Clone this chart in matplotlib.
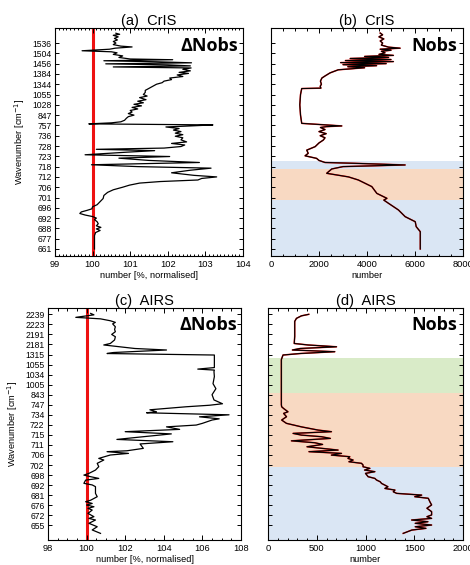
import matplotlib
matplotlib.use("Agg")
import matplotlib.pyplot as plt
from matplotlib.ticker import MultipleLocator, FixedLocator

plt.rcParams['font.family'] = ['Liberation Sans', 'DejaVu Sans']

# ---------------- data ----------------
cris_ticklabels = ['661', '677', '688', '692', '696', '701', '706', '712', '718', '723',
                   '728', '736', '757', '847', '1028', '1055', '1344', '1384', '1456', '1504', '1536']
airs_ticklabels = ['655', '672', '676', '681', '692', '698', '702', '706', '711', '715', '722',
                   '734', '747', '843', '1005', '1034', '1055', '1315', '2181', '2191', '2223', '2239']

# (a) CrIS delta Nobs [% normalised] vs channel position
cris_d_pos = [20.95, 20.85, 20.75, 20.6, 20.45, 20.3, 20.15, 20.0, 19.85, 19.7, 19.62, 19.5, 19.4,
              19.25, 19.15, 19.05, 18.9, 18.75, 18.6, 18.45, 18.38, 18.28, 18.18, 18.08, 17.98,
              17.88, 17.78, 17.68, 17.58, 17.45, 17.3, 17.15, 17.05, 16.9, 16.75, 16.6, 16.45,
              16.3, 16.15, 16.0, 15.8, 15.6, 15.4, 15.2, 15.0, 14.85, 14.7, 14.5, 14.35, 14.2,
              14.05, 13.9, 13.75, 13.6, 13.45, 13.3, 13.15, 13.0, 12.85, 12.7, 12.5, 12.35, 12.25,
              12.15, 12.05, 11.95, 11.85, 11.7, 11.55, 11.4, 11.25, 11.1, 10.95, 10.8, 10.6, 10.4,
              10.25, 10.1, 9.95, 9.8, 9.68, 9.55, 9.4, 9.15, 8.98, 8.82, 8.6, 8.4, 8.18, 8.0,
              7.85, 7.65, 7.4, 7.15, 7.0, 6.85, 6.7, 6.55, 6.4, 6.2, 6.0, 5.75, 5.5, 5.2, 4.9,
              4.6, 4.3, 4.1, 3.9, 3.75, 3.6, 3.45, 3.3, 3.15, 3.0, 2.85, 2.65, 2.45, 2.25, 2.1,
              1.95, 1.8, 1.6, 1.3, 0.8, 0.0]
cris_d_val = [100.62, 100.72, 100.55, 100.68, 100.58, 100.66, 100.55, 100.62, 100.55, 100.75,
              101.05, 100.6, 100.45, 99.72, 100.5, 100.65, 100.55, 100.8, 100.7, 101.0, 102.13,
              100.3, 101.7, 102.63, 100.35, 102.0, 102.6, 100.55, 102.62, 102.4, 102.6, 102.3,
              102.55, 102.25, 102.4, 102.05, 102.1, 101.9, 101.85, 101.7, 101.6, 101.5, 101.4,
              101.4, 101.35, 101.45, 101.25, 101.42, 101.2, 101.35, 101.1, 101.3, 101.05, 101.2,
              101.0, 101.05, 100.95, 101.1, 100.95, 100.9, 100.85, 100.75, 100.5, 99.9, 103.2,
              102.6, 101.95, 102.3, 102.15, 102.35, 102.2, 102.4, 102.2, 102.4, 102.35, 102.5,
              102.1, 102.45, 102.35, 101.9, 100.1, 101.65, 100.9, 99.8, 102.05, 100.7, 101.5,
              102.84, 99.97, 101.2, 103.15, 102.6, 102.1, 102.7, 103.3, 102.9, 102.8, 101.8,
              101.25, 100.98, 100.8, 100.55, 100.4, 100.3, 100.28, 100.2, 100.12, 100.0, 99.98,
              99.85, 99.7, 99.66, 99.8, 100.0, 100.1, 100.05, 100.12, 100.15, 100.1, 100.22,
              100.1, 100.2, 100.08, 100.05, 100.05, 100.05]

# (b) CrIS Nobs
cris_n_pos = [20.97, 20.8, 20.6, 20.4, 20.2, 20.0, 19.8, 19.6, 19.5, 19.4, 19.3, 19.2, 19.05,
              18.9, 18.8, 18.7, 18.6, 18.5, 18.4, 18.3, 18.2, 18.1, 18.0, 17.9, 17.8, 17.7, 17.6,
              17.4, 17.1, 16.8, 16.6, 16.3, 16.0, 15.8, 15.62, 15.58, 15.0, 14.0, 13.0, 12.2,
              11.95, 11.88, 11.8, 11.6, 11.4, 11.2, 11.0, 10.8, 10.58, 10.3, 9.94, 9.6, 9.29,
              9.05, 8.8, 8.6, 8.4, 8.32, 8.16, 8.0, 7.77, 7.35, 7.0, 6.7, 6.06, 5.4, 4.92, 4.75,
              4.43, 3.79, 3.14, 2.65, 2.17, 1.68, 1.2, 0.0]
cris_n_val = [4550, 4650, 4500, 4700, 4550, 4650, 4600, 4900, 5380, 4550, 5000, 4600, 4750,
              4500, 5100, 3900, 4900, 3300, 5000, 3100, 5100, 2900, 4800, 3000, 4400, 3200, 3900,
              2800, 2460, 2250, 2120, 2060, 2100, 2050, 2080, 1280, 1230, 1200, 1230, 1280,
              2950, 2300, 2060, 2250, 2000, 2300, 2050, 2250, 2180, 2000, 1840, 1490, 1550,
              1420, 1900, 2000, 2250, 3500, 5590, 3000, 2530, 2320, 3230, 3640, 4200, 4410, 4830,
              4700, 4900, 5310, 5590, 6010, 6050, 6220, 6220, 6220]

# (c) AIRS delta Nobs
airs_d_pos = [21.09, 20.95, 20.7, 20.55, 20.36, 20.2, 20.05, 19.76, 19.5, 19.27, 19.0, 18.77,
              18.45, 18.1, 17.95, 17.6, 17.45, 17.2, 17.1, 16.95, 16.7, 16.2, 15.7, 15.55, 15.45,
              15.3, 14.8, 14.1, 13.6, 13.0, 12.48, 12.1, 11.95, 11.8, 11.5, 11.3, 11.2, 11.0,
              10.8, 10.6, 10.48, 10.15, 9.98, 9.8, 9.55, 9.32, 9.1, 8.82, 8.55, 8.32, 8.1, 7.66,
              7.42, 7.33, 7.16, 7.0, 6.66, 6.5, 6.17, 5.84, 5.5, 5.17, 5.0, 4.84, 4.67, 4.5,
              4.18, 4.02, 3.85, 3.5, 3.18, 2.85, 2.5, 2.35, 2.18, 2.02, 1.85, 1.69, 1.52, 1.19,
              0.86, 0.69, 0.53, 0.2, -0.14, -0.46, -0.8]
airs_d_val = [100.21, 100.38, 99.44, 100.72, 101.23, 101.49, 101.35, 101.49, 101.45, 101.49,
              101.3, 101.49, 101.45, 101.23, 100.89, 102.5, 104.14, 101.4, 101.06, 106.62,
              106.62, 106.62, 106.62, 105.76, 106.62, 106.6, 106.62, 106.55, 106.7, 106.5,
              106.6, 107.04, 106.36, 105.16, 103.28, 103.62, 103.11, 107.38, 105.85, 106.87,
              106.5, 106.0, 105.68, 104.14, 104.82, 102.0, 104.39, 102.94, 101.57, 104.47,
              102.77, 102.94, 102.09, 101.06, 102.17, 101.23, 100.63, 100.89, 100.55, 100.63,
              100.46, 100.12, 99.86, 100.21, 100.63, 99.95, 99.86, 100.29, 100.46, 100.46,
              100.46, 100.55, 100.21, 99.95, 100.29, 100.0, 100.38, 100.07, 100.29, 100.07,
              100.38, 100.12, 100.46, 100.12, 100.55, 100.29, 100.72]

# (d) AIRS Nobs
airs_n_pos = [21.0, 20.85, 20.6, 20.3, 19.8, 19.44, 18.8, 18.1, 17.95, 17.77, 17.6, 17.45,
              17.28, 17.1, 16.95, 16.5, 15.0, 13.5, 12.0, 11.8, 11.63, 11.3, 11.14, 10.81, 10.48,
              10.15, 9.8, 9.48, 9.32, 9.15, 8.98, 8.82, 8.65, 8.41, 8.22, 8.05, 7.82, 7.49, 7.33,
              7.16, 6.99, 6.83, 6.66, 6.5, 6.33, 6.17, 6.0, 5.83, 5.67, 5.5, 5.34, 5.17, 4.84,
              4.67, 4.51, 4.34, 4.17, 4.0, 3.84, 3.67, 3.51, 3.34, 3.18, 3.01, 2.85, 2.69, 2.35,
              2.03, 1.7, 1.36, 1.03, 0.86, 0.69, 0.53, 0.36, 0.2, 0.03, -0.14, -0.3, -0.47, -0.8]
airs_n_val = [418, 343, 292, 274, 274, 274, 274, 269, 411, 703, 330, 250, 685, 330, 154, 137,
              137, 137, 137, 140, 160, 205, 160, 190, 140, 189, 343, 514, 651, 257, 343, 548,
              640, 240, 480, 560, 400, 719, 420, 754, 650, 839, 820, 873, 830, 959, 975, 975,
              1045, 990, 1096, 1000, 1027, 1096, 1113, 1150, 1165, 1199, 1230, 1199, 1302, 1285,
              1320, 1576, 1505, 1644, 1660, 1678, 1630, 1678, 1678, 1630, 1678, 1473, 1640,
              1510, 1678, 1510, 1620, 1475, 1387]

# shaded spectral regions: (lower pos, upper pos, colour)
cris_bands = [(-0.68, 4.76, '#dae6f4'), (4.76, 7.74, '#f8d9c2'), (7.74, 8.54, '#dae6f4')]
airs_bands = [(-1.46, 5.77, '#dae6f4'), (5.77, 13.13, '#f8d9c2'), (13.13, 16.68, '#d9ebc8')]

W, H = 470, 565
fig = plt.figure(figsize=(W / 100, H / 100), dpi=100)


def box(l, t, r, b):
    return [l / W, 1 - b / H, (r - l) / W, (b - t) / H]


ax_a = fig.add_axes(box(55, 28, 243, 256))
ax_b = fig.add_axes(box(271, 28, 463, 256))
ax_c = fig.add_axes(box(48, 308, 241, 540))
ax_d = fig.add_axes(box(268, 308, 463, 540))


def style(ax, xlim, major, minor, ylim, nlab, labels=None, minorlen=1.8):
    ax.set_xlim(*xlim)
    ax.set_ylim(*ylim)
    ax.xaxis.set_major_locator(MultipleLocator(major))
    ax.xaxis.set_minor_locator(MultipleLocator(minor))
    ax.yaxis.set_major_locator(FixedLocator(range(nlab)))
    if labels is not None:
        ax.set_yticklabels(labels, fontsize=6.2)
    else:
        ax.set_yticklabels([])
    ax.tick_params(axis='both', which='both', direction='in', top=True, right=True,
                   width=0.7)
    ax.tick_params(axis='x', which='major', length=3.5, labelsize=6.7, pad=3)
    ax.tick_params(axis='x', which='minor', length=minorlen)
    ax.tick_params(axis='y', which='major', length=3, pad=2.5)
    for s in ax.spines.values():
        s.set_linewidth(0.8)


TITLE_FS = 10.5

# (a)
style(ax_a, (99, 104), 1, 0.1, (-0.68, 21.46), len(cris_ticklabels), cris_ticklabels, 1.5)
ax_a.axvline(100, color='#ee1111', lw=2.2, zorder=1)
ax_a.plot(cris_d_val, cris_d_pos, color='black', lw=0.9, zorder=2)
ax_a.set_title('(a)  CrIS', fontsize=TITLE_FS, pad=2)
ax_a.set_xlabel('number [%, normalised]', fontsize=6.7, labelpad=1)
ax_a.set_ylabel('Wavenumber [cm$^{-1}$]', fontsize=6.7, labelpad=4)
ax_a.text(0.975, 0.962, 'ΔNobs', transform=ax_a.transAxes, ha='right', va='top',
          fontsize=13, fontweight='bold', family=['Open Sans', 'DejaVu Sans'])

# (b)
style(ax_b, (0, 8000), 2000, 500, (-0.68, 21.46), len(cris_ticklabels))
for lo, hi, c in cris_bands:
    ax_b.axhspan(lo, hi, color=c, lw=0, zorder=0)
ax_b.plot(cris_n_val, cris_n_pos, color='#e8140f', lw=1.1, zorder=2)
ax_b.plot(cris_n_val, cris_n_pos, color='black', lw=0.8, zorder=3)
ax_b.set_title('(b)  CrIS', fontsize=TITLE_FS, pad=2)
ax_b.set_xlabel('number', fontsize=6.7, labelpad=1)
ax_b.text(0.968, 0.962, 'Nobs', transform=ax_b.transAxes, ha='right', va='top',
          fontsize=13, fontweight='bold', family=['Open Sans', 'DejaVu Sans'])

# (c)
style(ax_c, (98, 108), 2, 0.5, (-1.46, 21.63), len(airs_ticklabels), airs_ticklabels)
ax_c.axvline(100, color='#ee1111', lw=2.2, zorder=1)
ax_c.plot(airs_d_val, airs_d_pos, color='black', lw=0.9, zorder=2)
ax_c.set_title('(c)  AIRS', fontsize=TITLE_FS, pad=2)
ax_c.set_xlabel('number [%, normalised]', fontsize=6.7, labelpad=1)
ax_c.set_ylabel('Wavenumber [cm$^{-1}$]', fontsize=6.7, labelpad=4)
ax_c.text(0.981, 0.964, 'ΔNobs', transform=ax_c.transAxes, ha='right', va='top',
          fontsize=13, fontweight='bold', family=['Open Sans', 'DejaVu Sans'])

# (d)
style(ax_d, (0, 2000), 500, 100, (-1.46, 21.63), len(airs_ticklabels))
for lo, hi, c in airs_bands:
    ax_d.axhspan(lo, hi, color=c, lw=0, zorder=0)
ax_d.plot(airs_n_val, airs_n_pos, color='#e8140f', lw=1.1, zorder=2)
ax_d.plot(airs_n_val, airs_n_pos, color='black', lw=0.8, zorder=3)
ax_d.set_title('(d)  AIRS', fontsize=TITLE_FS, pad=2)
ax_d.set_xlabel('number', fontsize=6.7, labelpad=1)
ax_d.text(0.968, 0.964, 'Nobs', transform=ax_d.transAxes, ha='right', va='top',
          fontsize=13, fontweight='bold', family=['Open Sans', 'DejaVu Sans'])

fig.savefig('out.png', dpi=100)
